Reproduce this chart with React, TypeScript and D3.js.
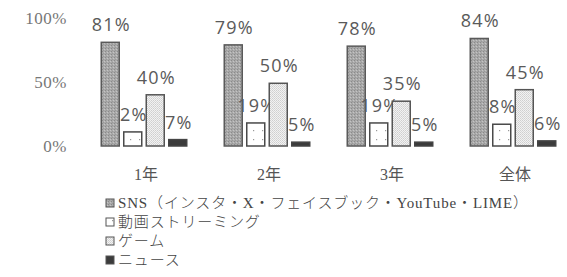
import React from "react";
import * as d3 from "d3";

const categories = ["1年", "2年", "3年", "全体"];
const seriesNames = [
  "SNS（インスタ・X・フェイスブック・YouTube・LIME）",
  "動画ストリーミング",
  "ゲーム",
  "ニュース",
];
const seriesKeys = ["sns", "video", "game", "news"];
// bar heights as drawn in the picture (%)
const snsValues = [81, 79, 78, 84];
const videoValues = [11, 18, 18, 17];
const gameValues = [40, 49, 35, 44];
const newsValues = [5, 3, 3, 4];
// value labels as printed
const snsLabels = ["81%", "79%", "78%", "84%"];
const videoLabels = ["2%", "19%", "19%", "8%"];
const gameLabels = ["40%", "50%", "35%", "45%"];
const newsLabels = ["7%", "5%", "5%", "6%"];
const yTicks = [0, 50, 100];

const W = 567;
const H = 277;

export default function App() {
  const values = [snsValues, videoValues, gameValues, newsValues];
  const labels = [snsLabels, videoLabels, gameLabels, newsLabels];
  const y = d3.scaleLinear().domain([0, 100]).range([146, 18]);
  const x0 = d3.scaleBand<string>().domain(categories).range([82.5, 574.5]).paddingInner(0);
  const x1 = d3
    .scaleBand<string>()
    .domain(seriesKeys)
    .range([0, 90])
    .paddingInner(0.2)
    .paddingOuter(0.1);
  const fills = ["url(#pSns)", "url(#pVideo)", "url(#pGame)", "#3b3b3b"];
  const strokes = ["#5a5a5a", "#4a4a4a", "#555", "#444"];
  const labelFont = "'Open Sans', 'Liberation Sans', sans-serif";
  const serifFont = "'Liberation Serif', 'Noto Sans CJK JP', serif";

  return (
    <svg
      width={W}
      height={H}
      style={{ position: "fixed", left: 0, top: 0, background: "#fff" }}
    >
      <defs>
        <pattern id="pSns" width="3" height="3" patternUnits="userSpaceOnUse">
          <rect width="3" height="3" fill="#a9a9a9" />
          <rect x="0" y="0" width="1" height="1" fill="#8a8a8a" />
          <rect x="2" y="1" width="1" height="1" fill="#c4c4c4" />
          <rect x="1" y="2" width="1" height="1" fill="#999" />
        </pattern>
        <pattern id="pVideo" width="9" height="9" patternUnits="userSpaceOnUse">
          <rect width="9" height="9" fill="#fff" />
          <rect x="4" y="4" width="1.2" height="1.2" fill="#999" />
        </pattern>
        <pattern id="pGame" width="2" height="2" patternUnits="userSpaceOnUse">
          <rect width="2" height="2" fill="#f2f2f2" />
          <rect x="0" y="0" width="1" height="1" fill="#cfcfcf" />
          <rect x="1" y="1" width="1" height="1" fill="#d8d8d8" />
        </pattern>
      </defs>

      {yTicks.map((t) => (
        <text
          key={t}
          x={67}
          y={y(t) + 6}
          textAnchor="end"
          fontFamily={serifFont}
          fontSize={17}
          fill="#777"
          letterSpacing={0.5}
        >
          {t}%
        </text>
      ))}

      {categories.map((c, ci) => (
        <g key={c} transform={`translate(${x0(c)! + (x0.bandwidth() - 90) / 2},0)`}>
          {seriesKeys.map((k, si) => {
            const v = values[si][ci];
            const bx = x1(k)!;
            const bw = x1.bandwidth();
            return (
              <g key={k}>
                <rect
                  x={bx}
                  y={y(v)}
                  width={bw}
                  height={y(0) - y(v)}
                  fill={fills[si]}
                  stroke={strokes[si]}
                  strokeWidth={1.5}
                />
                <text
                  x={bx + bw / 2 + 1}
                  y={y(v) - 11}
                  textAnchor="middle"
                  fontFamily={labelFont}
                  fontSize={18}
                  letterSpacing={1.2}
                  fill="#5a5a5a"
                >
                  {labels[si][ci]}
                </text>
              </g>
            );
          })}
          <text
            x={45 + 2}
            y={180}
            textAnchor="middle"
            fontFamily={serifFont}
            fontSize={16}
            fill="#555"
          >
            {c}
          </text>
        </g>
      ))}

      {seriesNames.map((n, i) => {
        const cy = 203 + i * 19;
        return (
          <g key={n}>
            <rect
              x={106}
              y={cy - 4}
              width={8}
              height={8}
              fill={fills[i]}
              stroke="#555"
              strokeWidth={1}
            />
            <text
              x={118}
              y={cy + 5}
              fontFamily={serifFont}
              fontSize={15}
              fontWeight={300}
              letterSpacing={0.85}
              fill="#444"
            >
              {n}
            </text>
          </g>
        );
      })}
    </svg>
  );
}
